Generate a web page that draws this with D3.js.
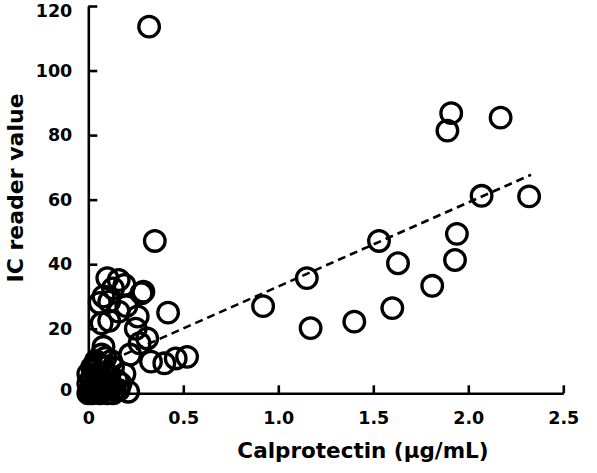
<!DOCTYPE html>
<html>
<head>
<meta charset="utf-8">
<script src="https://cdn.jsdelivr.net/npm/d3@7/dist/d3.min.js"></script>
<style>
  html, body { margin: 0; padding: 0; background: #fff; }
  svg { display: block; }
  text { font-family: "DejaVu Sans", sans-serif; font-weight: bold; fill: #000; }
</style>
</head>
<body>
<script>
// Calprotectin (µg/mL) values, one per sample
const calprotectin = [
  0.00, 0.01, 0.02, 0.03, 0.00, 0.02, 0.04, 0.05, 0.06, 0.03,
  0.05, 0.07, 0.08, 0.09, 0.10, 0.06, 0.08, 0.10, 0.12, 0.14,
  0.11, 0.13, 0.15, 0.04, 0.09, 0.21, 0.19, 0.02, 0.07, 0.12,
  0.01, 0.03, 0.05, 0.07, 0.09, 0.11, 0.00, 0.04, 0.06, 0.08,
  0.10, 0.13, 0.02, 0.05, 0.16, 0.17,
  0.33, 0.40, 0.46, 0.52, 0.27, 0.31, 0.08, 0.25, 0.07, 0.26,
  0.16, 0.42, 0.29, 0.11, 0.08, 0.28, 0.19, 0.16, 0.10, 0.35,
  0.32, 0.13, 0.06, 0.20, 0.11, 0.22,
  0.92, 1.17, 1.15, 1.40, 1.60, 1.53, 1.63, 1.81, 1.94, 1.93,
  2.07, 2.32, 1.89, 1.91, 2.17
];
// IC reader values, same order
const icReader = [
  0, 1, 0, 2, 3, 5, 1, 3, 0, 7,
  6, 4, 1, 3, 0, 9, 8, 6, 2, 1,
  5, 8, 4, 10, 11, 0.5, 6, 4, 12, 10,
  0.5, 1, 2, 0.5, 2, 3, 6, 4, 5, 3,
  4, 0, 8, 9, 1, 3,
  9.8, 9.3, 10.8, 11.3, 15.5, 17, 14.4, 20, 21.7, 23.8,
  25.3, 25, 31.5, 28.4, 30, 31, 33.6, 35.1, 35.7, 47.2,
  113.6, 32.5, 28, 27, 22.5, 12,
  27, 20.2, 35.7, 22.2, 26.4, 47.2, 40.3, 33.3, 49.4, 41.3,
  61.2, 61, 81.4, 86.8, 85.4
];
// dashed linear trend line end points
const trendX = [0.0, 2.33];
const trendY = [7.1, 67.7];

const xTicks = [0, 0.5, 1.0, 1.5, 2.0, 2.5];
const xTickLabels = ["0", "0.5", "1.0", "1.5", "2.0", "2.5"];
const yTicks = [0, 20, 40, 60, 80, 100, 120];

const W = 597, H = 473;
const svg = d3.select("body").append("svg").attr("width", W).attr("height", H);

const x = d3.scaleLinear().domain([0, 2.5]).range([88.3, 563.3]);
const y = d3.scaleLinear().domain([0, 120]).range([393.3, 6]);

// trend line
svg.append("path")
  .datum(trendX.map((v, i) => [v, trendY[i]]))
  .attr("d", d3.line().x(d => x(d[0])).y(d => y(d[1])))
  .attr("fill", "none").attr("stroke", "#000")
  .attr("stroke-width", 2.6).attr("stroke-dasharray", "8,5");

// points
svg.append("g").selectAll("circle")
  .data(calprotectin.map((v, i) => [v, icReader[i]]))
  .join("circle")
  .attr("cx", d => x(d[0])).attr("cy", d => y(d[1]))
  .attr("r", 10.3)
  .attr("fill", "none").attr("stroke", "#000").attr("stroke-width", 3.3);

// axes
const xAxis = d3.axisBottom(x).tickValues(xTicks)
  .tickFormat((d, i) => xTickLabels[i])
  .tickSizeInner(-8).tickSizeOuter(0).tickPadding(18);
const gx = svg.append("g").attr("transform", `translate(0,${y(0)})`).call(xAxis);

const yAxis = d3.axisLeft(y).tickValues(yTicks)
  .tickSizeInner(-9).tickSizeOuter(0).tickPadding(16);
const gy = svg.append("g").attr("transform", `translate(${x(0)},0)`).call(yAxis);

[gx, gy].forEach(g => {
  g.select(".domain").attr("stroke", "#000").attr("stroke-width", 2.6);
  g.selectAll(".tick line").attr("stroke", "#000").attr("stroke-width", 2.6);
  g.selectAll(".tick text").style("font-size", "17.5px")
    .style("font-family", "'DejaVu Sans', sans-serif").style("font-weight", "bold");
});
// keep the top label inside the picture, as in the reference
gy.selectAll(".tick text").filter(d => d === 120).attr("y", 5);
gy.selectAll(".tick text").filter(d => d === 0).attr("y", -3);

// axis titles
svg.append("text")
  .attr("x", 363).attr("y", 458)
  .attr("text-anchor", "middle")
  .style("font-size", "21.5px")
  .text("Calprotectin (\u03bcg/mL)");

svg.append("text")
  .attr("transform", "translate(23,188) rotate(-90)")
  .attr("text-anchor", "middle")
  .style("font-size", "22px")
  .text("IC reader value");
</script>
</body>
</html>
